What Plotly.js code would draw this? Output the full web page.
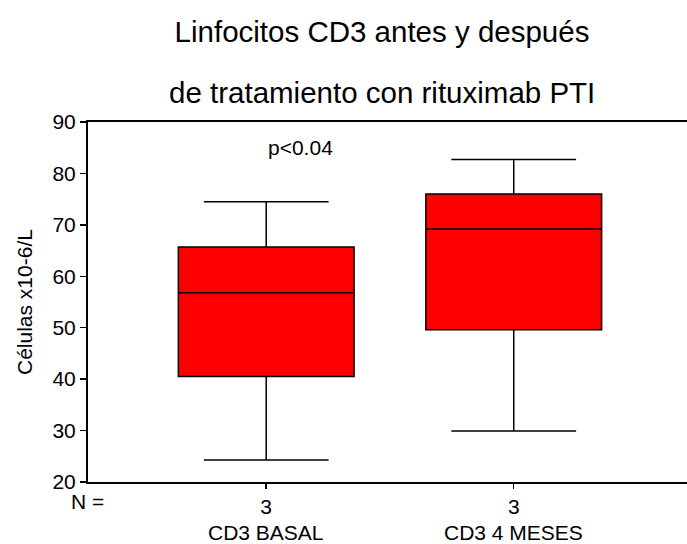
<!DOCTYPE html>
<html>
<head>
<meta charset="utf-8">
<script src="https://cdn.plot.ly/plotly-3.0.1.min.js"></script>
<style>
  html, body { margin: 0; padding: 0; background: #fff; }
  #chart { width: 687px; height: 544px; }
</style>
</head>
<body>
<div id="chart"></div>
<script>
// CD3 lymphocyte counts before and 4 months after rituximab (box summaries)
const categories = ['CD3 BASAL', 'CD3 4 MESES'];
const nCounts = ['3', '3'];
const lowerWhisker = [24.3, 29.9];
const q1Values = [40.5, 49.6];
const medianValues = [56.8, 69.2];
const q3Values = [65.7, 76.0];
const upperWhisker = [74.5, 82.7];
const yTicks = [20, 30, 40, 50, 60, 70, 80, 90];
const pLabel = 'p<0.04';

const FONT = 'Liberation Sans, Arial, Helvetica, sans-serif';
const TXT = 21;
const TITLE = 29.5;

const trace = {
  type: 'box',
  x: categories,
  q1: q1Values,
  median: medianValues,
  q3: q3Values,
  lowerfence: lowerWhisker,
  upperfence: upperWhisker,
  width: 0.71,
  whiskerwidth: 0.71,
  fillcolor: '#ff0000',
  line: { color: '#000000', width: 1.5 },
  boxpoints: false,
  hoverinfo: 'skip',
  showlegend: false
};

const layout = {
  width: 687,
  height: 544,
  margin: { l: 88, r: 0, t: 122, b: 62 },
  paper_bgcolor: '#ffffff',
  plot_bgcolor: '#ffffff',
  font: { family: FONT, size: TXT, color: '#000000' },
  title: {
    text: 'Linfocitos CD3 antes y después',
    font: { family: FONT, size: TITLE, color: '#000000' },
    xref: 'container', yref: 'container',
    x: 382 / 687, xanchor: 'center',
    y: 1 - 32 / 544, yanchor: 'middle'
  },
  xaxis: {
    type: 'category',
    range: [-0.72, 1.70],
    tickmode: 'array',
    tickvals: categories,
    ticktext: nCounts,
    ticks: 'outside',
    ticklen: 5,
    tickwidth: 1.5,
    tickcolor: '#000',
    showline: true,
    linecolor: '#000',
    linewidth: 2,
    mirror: true,
    showgrid: false,
    zeroline: false,
    fixedrange: true,
    tickfont: { family: FONT, size: TXT, color: '#000' }
  },
  yaxis: {
    range: [20, 90],
    tickmode: 'array',
    tickvals: yTicks,
    ticks: 'outside',
    ticklen: 6,
    tickwidth: 1.5,
    tickcolor: '#000',
    showline: true,
    linecolor: '#000',
    linewidth: 2,
    mirror: false,
    showgrid: false,
    zeroline: false,
    fixedrange: true,
    tickfont: { family: FONT, size: TXT, color: '#000' }
  },
  annotations: [
    {
      text: 'de tratamiento con rituximab PTI',
      xref: 'paper', yref: 'paper',
      x: (382 - 88) / (687 - 88), y: 1,
      xanchor: 'center', yanchor: 'middle',
      yshift: 30,
      showarrow: false,
      font: { family: FONT, size: TITLE, color: '#000' }
    },
    {
      text: 'Células x10-6/L',
      xref: 'paper', yref: 'paper',
      x: 0, y: 0.5,
      xshift: -64,
      textangle: -90,
      xanchor: 'center', yanchor: 'middle',
      showarrow: false,
      font: { family: FONT, size: TXT, color: '#000' }
    },
    {
      text: 'N =',
      xref: 'paper', yref: 'paper',
      x: 0, y: 0,
      xshift: -1, yshift: -19,
      xanchor: 'center', yanchor: 'middle',
      showarrow: false,
      font: { family: FONT, size: TXT, color: '#000' }
    },
    {
      text: pLabel,
      xref: 'x', yref: 'y',
      x: 0.14, y: 85.1,
      xanchor: 'center', yanchor: 'middle',
      showarrow: false,
      font: { family: FONT, size: TXT, color: '#000' }
    }
  ].concat(categories.map(function (c) {
    return {
      text: c,
      xref: 'x', yref: 'paper',
      x: c, y: 0,
      yshift: -50,
      xanchor: 'center', yanchor: 'middle',
      showarrow: false,
      font: { family: FONT, size: TXT, color: '#000' }
    };
  }))
};

Plotly.newPlot('chart', [trace], layout, { displayModeBar: false, staticPlot: true });
</script>
</body>
</html>
